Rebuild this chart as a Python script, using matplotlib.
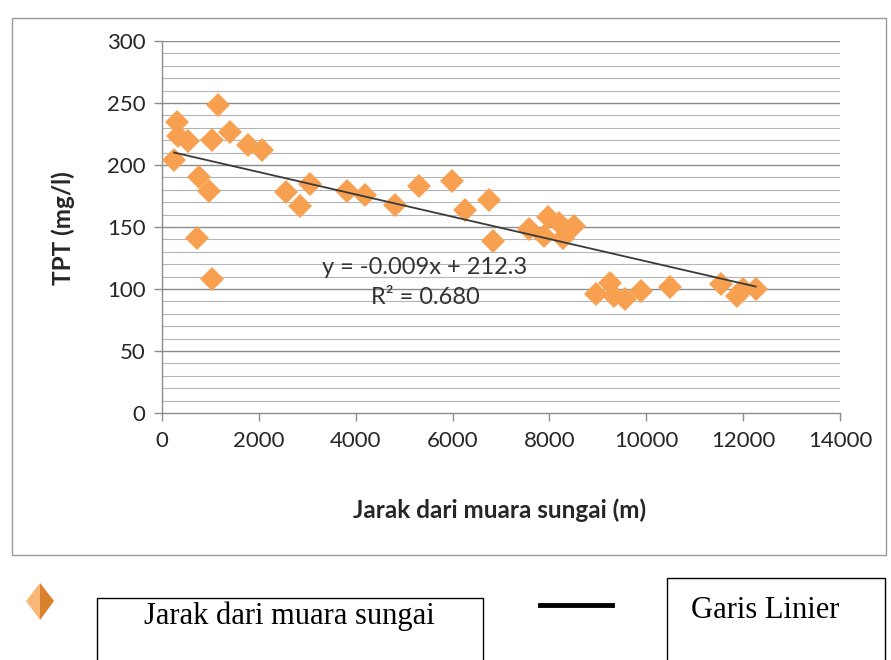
import numpy as np
import matplotlib
matplotlib.use("Agg")
import matplotlib.pyplot as plt
from matplotlib.patches import Rectangle, Polygon
from matplotlib.lines import Line2D

# jarak dari muara sungai (m) vs TPT (mg/l)
jarak = [1166, 304, 338, 545, 1029, 1394, 1767, 2070, 248, 772, 979, 731, 1029,
         2561, 2843, 3064, 3824, 4189, 4803, 5314, 5983, 6259, 6750, 6839,
         7584, 7964, 7895, 8206, 8275, 8516,
         8965, 9241, 9331, 9551, 9882, 10482, 11538, 11863, 12002, 12257]
tpt = [248, 235, 223, 219, 220, 227, 216, 212, 204, 190, 179, 141, 108,
       178, 167, 185, 179, 176, 168, 183, 187, 164, 172, 139,
       148, 158, 143, 153, 141, 151,
       96, 105, 94, 92, 98, 102, 104, 94, 100, 100]

slope, intercept = -0.009, 212.3
eq_text = "y = -0.009x + 212.3"
r2_text = "R\u00b2 = 0.680"
x_ticks = list(range(0, 14001, 2000))
y_ticks = list(range(0, 301, 50))

W, H = 891, 660
fig = plt.figure(figsize=(W / 100, H / 100), dpi=100)
fig.patch.set_facecolor("white")

# outer chart frame
fig.add_artist(Rectangle((12 / W, 1 - 555 / H), (886 - 12) / W, (555 - 18) / H,
                         transform=fig.transFigure, fill=False,
                         edgecolor="#9a9a9a", lw=1.0))

ax = fig.add_axes([162 / W, 1 - 413 / H, (840 - 162) / W, (413 - 41) / H])
ax.set_xlim(0, 14000)
ax.set_ylim(0, 300)

# gridlines every 10, darker every 50
for v in range(10, 301, 10):
    major = v % 50 == 0
    ax.axhline(v, color="#8c8c8c" if major else "#b4b4b4",
               lw=1.0 if major else 0.8, zorder=0)

for s in ["top", "right"]:
    ax.spines[s].set_visible(False)
for s in ["left", "bottom"]:
    ax.spines[s].set_color("#8c8c8c")
    ax.spines[s].set_linewidth(1.0)

font = "Lato"
ax.set_xticks(x_ticks)
ax.set_yticks(y_ticks)
ax.set_xticklabels([str(t) for t in x_ticks], fontsize=16, family=font, color="#262626")
ax.set_yticklabels([str(t) for t in y_ticks], fontsize=16, family=font, color="#262626")
ax.tick_params(axis="both", direction="out", length=6, width=1.0, color="#8c8c8c")
ax.tick_params(axis="x", pad=7)
ax.tick_params(axis="y", pad=6)

ax.plot(jarak, tpt, linestyle="none", marker="D", markersize=12.5,
        color="#F7A050", markeredgewidth=0, zorder=3)

xl = np.array([min(jarak), max(jarak)])
ax.plot(xl, slope * xl + intercept, color="#3a3a3a", lw=1.3, zorder=4)

ax.text(5430, 117, eq_text, ha="center", va="center", fontsize=17,
        family=font, color="#333333", zorder=5)
ax.text(5430, 93, r2_text, ha="center", va="center", fontsize=17,
        family=font, color="#333333", zorder=5)

fig.text(63 / W, 1 - 228 / H, "TPT (mg/l)", rotation=90, ha="center",
         va="center", fontsize=17.5, fontweight="bold", family=font, color="#262626")
fig.text(500 / W, 1 - 510 / H, "Jarak dari muara sungai (m)", ha="center",
         va="center", fontsize=17.5, fontweight="bold", family=font, color="#262626")

# legend below the chart
fig.add_artist(Polygon([(40 / W, 1 - 583 / H), (26 / W, 1 - 601 / H),
                        (40 / W, 1 - 620 / H)], closed=True,
                       transform=fig.transFigure, facecolor="#F9B878", edgecolor="none"))
fig.add_artist(Polygon([(40 / W, 1 - 583 / H), (54 / W, 1 - 601 / H),
                        (40 / W, 1 - 620 / H)], closed=True,
                       transform=fig.transFigure, facecolor="#D9822B", edgecolor="none"))

fig.add_artist(Rectangle((97 / W, -0.01), (483 - 97) / W, 0.01 + (660 - 598) / H,
                         transform=fig.transFigure, fill=False,
                         edgecolor="black", lw=1.0))
fig.text(289 / W, 1 - 616 / H, "Jarak dari muara sungai", ha="center",
         va="center", fontsize=22, family="Liberation Serif", color="black")

fig.add_artist(Line2D([540 / W, 612 / W], [1 - 605 / H, 1 - 605 / H],
                      transform=fig.transFigure, color="black", lw=3.5))

fig.add_artist(Rectangle((667 / W, -0.01), (885 - 667) / W, 0.01 + (660 - 578) / H,
                         transform=fig.transFigure, fill=False,
                         edgecolor="black", lw=1.0))
fig.text(765 / W, 1 - 611 / H, "Garis Linier", ha="center",
         va="center", fontsize=22, family="Liberation Serif", color="black")

fig.savefig("out.png", dpi=100)
